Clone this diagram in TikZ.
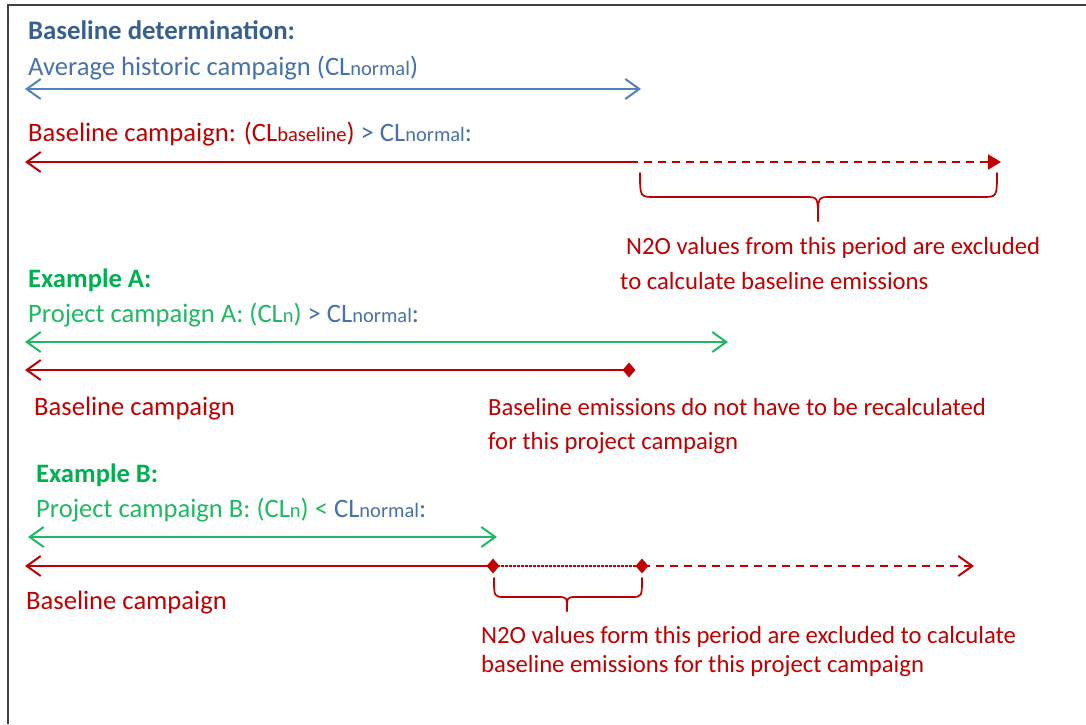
\documentclass[tikz,border=0pt]{standalone}
\usepackage{fontspec}
\setmainfont{Carlito}
\usetikzlibrary{arrows.meta,shapes.geometric}
\definecolor{tblue}{HTML}{376092}
\definecolor{txblue}{HTML}{4672AA}
\definecolor{lblue}{HTML}{4F81BD}
\definecolor{dred}{HTML}{C00000}
\definecolor{dgreen}{HTML}{00B050}
\definecolor{lgreen}{HTML}{20B862}
\newcommand\smallsub[1]{{\fontsize{20.5}{24}\selectfont #1}}
\begin{document}
\begin{tikzpicture}[x=1pt,y=-1pt,
  txt/.style={anchor=base west, inner sep=0pt, font=\fontsize{26.6}{32}\selectfont},
  note/.style={anchor=base west, inner sep=0pt, font=\fontsize{24.7}{30}\selectfont},
  ln/.style={line width=2pt},
  dia/.style={diamond, fill=dred, inner sep=0pt, minimum width=13pt, minimum height=15pt},
  brc/.style={draw=dred, line width=1.7pt},
  dsh/.style={dash pattern=on 8pt off 6pt}]
\useasboundingbox (0,0) rectangle (1086,724);
\draw[line width=1.5pt, black!75] (8,724) -- (8,5) -- (1086,5);

% Baseline determination
\node[txt, text=tblue, font=\fontsize{26.8}{32}\selectfont\bfseries] (t1) at (28,39) {Baseline determination:};
\node[txt, text=txblue] (t2) at (28,75) {Average historic campaign (CL\smallsub{normal})};
\coordinate (b0) at (25,89); \coordinate (b1) at (641,89);
\draw[ln, lblue, {Straight Barb[length=14pt,width=20pt]}-{Straight Barb[length=14pt,width=20pt]}] (b0) -- (b1);

\node[txt, text=dred] (t3) at (28,141) {Baseline campaign: (CL\smallsub{baseline}) \textcolor{txblue}{> CL\smallsub{normal}:}};
\coordinate (r0) at (25,162); \coordinate (rm) at (630,162); \coordinate (r1) at (1001,162);
\draw[ln, dred, {Straight Barb[length=14pt,width=20pt]}-] (r0) -- (rm);
\draw[ln, dred, dsh, -{Triangle[length=13pt,width=15pt]}] (rm) -- (r1);
\coordinate (ba) at (640,173); \coordinate (bb) at (997,173); \coordinate (bt) at (818,221);
\draw[brc, line cap=round] (ba) .. controls (640,197) and (640,197) .. (655,197) -- (806,197)
   .. controls (818,197) and (818,197) .. (bt);
\draw[brc, line cap=round] (bb) .. controls (997,197) and (997,197) .. (982,197) -- (830,197)
   .. controls (818,197) and (818,197) .. (bt);
\node[note, text=dred] (t4) at (626,254) {N2O values from this period are excluded};
\node[note, text=dred] (t5) at (620,289) {to calculate baseline emissions};

% Example A
\node[txt, text=dgreen, font=\fontsize{26.6}{32}\selectfont\bfseries] (ea) at (28,287) {Example A:};
\node[txt, text=lgreen] (pa) at (28,322) {Project campaign A: (CL\smallsub{n}) \textcolor{txblue}{> CL\smallsub{normal}:}};
\coordinate (g0) at (25,342); \coordinate (g1) at (728,342);
\draw[ln, lgreen, {Straight Barb[length=14pt,width=20pt]}-{Straight Barb[length=14pt,width=20pt]}] (g0) -- (g1);
\coordinate (ra0) at (25,370);
\node[dia] (da) at (629,370) {};
\draw[ln, dred, {Straight Barb[length=14pt,width=20pt]}-] (ra0) -- (da.center);
\node[txt, text=dred] (bca) at (34,415) {Baseline campaign};
\node[note, text=dred] (na1) at (488,415) {Baseline emissions do not have to be recalculated};
\node[note, text=dred] (na2) at (488,449) {for this project campaign};

% Example B
\node[txt, text=dgreen, font=\fontsize{26.6}{32}\selectfont\bfseries] (eb) at (36,482) {Example B:};
\node[txt, text=lgreen] (pb) at (36,517) {Project campaign B: (CL\smallsub{n}) < \textcolor{txblue}{CL\smallsub{normal}:}};
\coordinate (h0) at (28,537); \coordinate (h1) at (497,537);
\draw[ln, lgreen, {Straight Barb[length=14pt,width=20pt]}-{Straight Barb[length=14pt,width=20pt]}] (h0) -- (h1);
\coordinate (rb0) at (25,566);
\node[dia] (db1) at (493,566) {};
\node[dia] (db2) at (642,566) {};
\coordinate (rb1) at (974,566);
\draw[ln, dred, {Straight Barb[length=14pt,width=20pt]}-] (rb0) -- (db1.center);
\draw[ln, dred, dash pattern=on 3pt off 1pt] (db1.center) -- (db2.center);
\draw[ln, dred, dsh, -{Straight Barb[length=14pt,width=20pt]}] (db2.center) -- (rb1);
\coordinate (ca) at (494,578); \coordinate (cb) at (642,578); \coordinate (ct) at (567,611);
\draw[brc, line cap=round] (ca) .. controls (494,597) and (494,597) .. (505,597) -- (558,597)
   .. controls (567,597) and (567,597) .. (ct);
\draw[brc, line cap=round] (cb) .. controls (642,597) and (642,597) .. (631,597) -- (576,597)
   .. controls (567,597) and (567,597) .. (ct);
\node[txt, text=dred] (bcb) at (26,609) {Baseline campaign};
\node[note, text=dred] (nb1) at (481,643) {N2O values form this period are excluded to calculate};
\node[note, text=dred] (nb2) at (481,672) {baseline emissions for this project campaign};
\end{tikzpicture}
\end{document}
